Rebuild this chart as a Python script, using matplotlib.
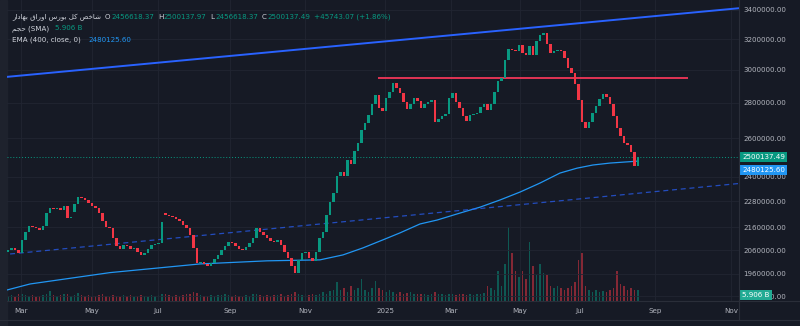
import numpy as np
import matplotlib.pyplot as plt
from matplotlib.ticker import FixedLocator, FixedFormatter, NullLocator
from matplotlib.transforms import blended_transform_factory
from matplotlib.patches import Rectangle
from matplotlib.lines import Line2D

BG = '#161a25'
UP = '#089981'
DOWN = '#f23645'
TXT = '#b2b5be'
LEG = '#d1d4dc'

# closes in thousand points, one candle per ~2 trading days
closes_k = [
    2060, 2069, 2060, 2047, 2104, 2139, 2166, 2161, 2157, 2148,
    2166, 2225, 2249, 2244, 2249, 2240, 2258, 2202, 2202, 2268,
    2301, 2296, 2287, 2273, 2258, 2249, 2225, 2188, 2161, 2157,
    2113, 2078, 2064, 2082, 2078, 2064, 2069, 2052, 2039, 2047,
    2064, 2082, 2086, 2091, 2184, 2216, 2211, 2207, 2198, 2188,
    2170, 2157, 2126, 2069, 2005, 2009, 2001, 1993, 2005, 2022,
    2039, 2060, 2078, 2095, 2091, 2078, 2064, 2060, 2073, 2091,
    2113, 2157, 2139, 2126, 2113, 2100, 2095, 2104, 2082, 2052,
    2026, 1993, 1963, 2018, 2047, 2052, 2026, 2014, 2052, 2113,
    2139, 2216, 2277, 2321, 2404, 2424, 2404, 2486, 2465, 2533,
    2576, 2647, 2686, 2731, 2794, 2847, 2771, 2753, 2830, 2865,
    2919, 2889, 2859, 2806, 2765, 2794, 2830, 2812, 2771, 2794,
    2806, 2818, 2691, 2709, 2726, 2737, 2830, 2859, 2806, 2771,
    2726, 2697, 2731, 2737, 2742, 2777, 2794, 2759, 2794, 2865,
    2932, 2950, 3063, 3134, 3128, 3121, 3160, 3108, 3095, 3154,
    3095, 3187, 3227, 3240, 3167, 3108, 3121, 3128, 3121, 3076,
    3012, 2981, 2913, 2818, 2691, 2658, 2691, 2742, 2782, 2824,
    2853, 2836, 2794, 2726, 2658, 2614, 2575, 2566, 2527, 2454.394,
    2500.13749,
]
# candles that open away from the previous close
gap_opens_k = {0: 2052, 19: 2230, 45: 2225, 180: 2456.61837}

# volume in billions
volume_b = [
    2.5, 3, 2, 3.5, 4, 3, 2.5, 3, 2, 2.5, 3,
    4, 5.5, 3, 2.5, 3, 3.5, 4, 2.5, 3, 4.5,
    3, 2.5, 3, 2, 2.5, 3, 3.5, 2.5, 2, 3,
    2.5, 2, 3, 2.5, 3, 2, 2.5, 3, 2.5, 2,
    3, 2.5, 3, 4, 3.5, 3, 2.5, 3, 2.5, 3,
    3.5, 4, 5, 4.5, 3, 2.5, 2.5, 3, 2.5, 3,
    3, 3.5, 3, 2.5, 3, 2.5, 2, 3, 2.5, 3.5,
    4, 3, 2.5, 3, 2.5, 3, 3, 3.5, 2.5, 3,
    4, 5, 4, 3, 3.5, 3, 4, 3, 4,
    5, 4, 5.5, 6, 10, 6, 7, 5, 8, 6,
    7, 12, 6, 5, 7, 11, 7, 6, 5, 6,
    5, 4, 5, 4, 4.5, 5, 4, 3.5, 4, 3.5,
    3, 4, 5, 4, 3.5, 3, 4, 3.5, 3, 4,
    3.5, 3, 3.5, 3, 4, 3.5, 4.5, 8, 7, 6,
    16, 8, 20, 40, 26, 16, 13, 16, 12, 32,
    19, 14, 20, 15, 14, 8, 7, 8, 7, 6,
    7, 8, 10, 22, 26, 8, 6, 5, 6, 5,
    5.5, 5, 6, 7, 16, 9, 8, 6, 7, 6,
    5.906,
]

# EMA(400) (candle index, thousand points)
ema_idx = [-0.3, 6.3, 29.1, 54.9, 74.0, 89.1, 95.7, 101.4, 107.1, 112.0, 117.7,
           122.6, 129.1, 134.9, 140.6, 146.3, 152.0, 157.7, 162.6, 167.1, 172.0, 180]
ema_k = [1895, 1919, 1965, 2001, 2014, 2018, 2039, 2069, 2104, 2135, 2175,
         2193, 2225, 2253, 2287, 2325, 2369, 2419, 2444, 2460, 2470, 2480.1256]

month_pos = [3.7, 24.0, 42.9, 63.4, 84.9, 107.7, 126.6, 146.3, 163.4, 184.9, 206.6]
month_lbl = ['Mar', 'May', 'Jul', 'Sep', 'Nov', '2025', 'Mar', 'May', 'Jul', 'Sep', 'Nov']
price_ticks = [3400000, 3200000, 3000000, 2800000, 2600000, 2400000,
               2280000, 2160000, 2060000, 1960000, 1870000]

# drawings
upper_trend_x = [-0.3, 208.9]
upper_trend_y = [2957000, 3412800]
lower_trend_x = [0.6, 208.9]
lower_trend_y = [2043000, 2367000]
resist_x = [105.7, 194.3]
resist_y = 2953000

last_close = 2500137.49
last_ema = 2480125.60
last_vol = 5.906

title_fa = '\uFEAD\uFE8D\uFEA9\uFE8E\uFEEC\uFE91 \uFED5\uFE8D\uFEAD\uFEED\uFE8D \uFEB1\uFEAD\uFEEE\uFE91 \uFEDE\uFB90 \uFEBA\uFEA7\uFE8E\uFEB7'
vol_fa = '\uFEE2\uFEA0\uFEA3'

closes = np.array(closes_k, dtype=float) * 1000
opens = np.r_[closes[0], closes[:-1]]
for k, v in gap_opens_k.items():
    opens[k] = v * 1000
idx = np.arange(len(closes))
rising = closes >= opens
colors = np.where(rising, UP, DOWN)

fig = plt.figure(figsize=(8, 3.26), dpi=100, facecolor=BG)
ax = fig.add_axes([7 / 800, 25 / 326, 732 / 800, 301 / 326])
axv = ax.twinx()
ax.set_zorder(axv.get_zorder() + 1)
ax.patch.set_visible(False)
axv.set_facecolor(BG)

# volume
axv.bar(idx, volume_b, width=0.55, color=colors, alpha=0.5, linewidth=0)
axv.set_ylim(0, 162)
axv.set_yticks([])
for s in axv.spines.values():
    s.set_visible(False)

# candles
ax.set_yscale('log')
lo = np.minimum(opens, closes)
h = np.maximum(np.abs(closes - opens), lo * 0.0016)
ax.bar(idx, h, bottom=lo, width=0.72, color=colors, linewidth=0, zorder=3)

ax.plot(ema_idx, np.array(ema_k) * 1000, color='#2196f3', lw=0.9, zorder=2)
ax.plot(upper_trend_x, upper_trend_y, color='#2962ff', lw=1.4, zorder=2)
ax.plot(lower_trend_x, lower_trend_y, color='#2962ff', lw=0.9, ls=(0, (4, 3)), alpha=0.7, zorder=2)
ax.hlines(resist_y, resist_x[0], resist_x[1], color='#f23658', lw=1.3, zorder=2)
ax.axhline(last_close, color=UP, lw=0.7, ls=(0, (1, 2)), zorder=1)

ax.set_xlim(-0.286, 208.86)
ax.set_ylim(1852000, 3471700)
ax.yaxis.tick_right()
ax.yaxis.set_major_locator(FixedLocator(price_ticks))
ax.yaxis.set_major_formatter(FixedFormatter([f'{t:.2f}' for t in price_ticks]))
ax.yaxis.set_minor_locator(NullLocator())
ax.set_xticks(month_pos, month_lbl)
ax.tick_params(axis='y', colors=TXT, labelsize=5.1, length=0, pad=3)
ax.tick_params(axis='x', colors=TXT, labelsize=5.1, length=0, pad=5)
ax.grid(True, color='#212532', lw=0.6)
ax.set_axisbelow(True)
for s in ax.spines.values():
    s.set_visible(False)

# price / value tags on the scale
ax.annotate(f'{last_close:.2f}', xy=(1, last_close), xycoords=('axes fraction', 'data'),
            xytext=(2.2, 0), textcoords='offset points', va='center', ha='left',
            fontsize=5.1, color='white', zorder=10,
            bbox=dict(boxstyle='square,pad=0.3', fc=UP, ec='none'))
ax.annotate(f'{last_ema:.2f}', xy=(1, last_ema), xycoords=('axes fraction', 'data'),
            xytext=(2.2, -6.5), textcoords='offset points', va='center', ha='left',
            fontsize=5.1, color='white', zorder=10,
            bbox=dict(boxstyle='square,pad=0.3', fc='#2196f3', ec='none'))
ax.annotate(f'{last_vol:.3f} B', xy=(1, last_vol),
            xycoords=blended_transform_factory(ax.transAxes, axv.transData),
            xytext=(2.2, -3.5), textcoords='offset points', va='center', ha='left',
            fontsize=5.1, color='white', zorder=10,
            bbox=dict(boxstyle='square,pad=0.3', fc='#22ab94', ec='none'))

# frame pieces
fig.patches.append(Rectangle((0, 0), 7 / 800, 1, transform=fig.transFigure, color='#1e222d', zorder=0))
fig.lines.append(Line2D([739 / 800] * 2, [1 - 320 / 326, 1], transform=fig.transFigure, color='#2a2e39', lw=0.8))
fig.lines.append(Line2D([7 / 800, 1], [25 / 326] * 2, transform=fig.transFigure, color='#2a2e39', lw=0.8))
fig.lines.append(Line2D([0, 1], [6 / 326] * 2, transform=fig.transFigure, color='#2a2e39', lw=0.8))

# legend rows
r = fig.canvas.get_renderer()


def write_row(x, y, parts):
    for s, c, gap in parts:
        t = fig.text(x / 800, 1 - y / 326, s, color=c, fontsize=5.1, va='center', ha='left')
        x = t.get_window_extent(r).x1 + gap


write_row(12, 17, [(title_fa, LEG, 4), ('O', LEG, 0.5), ('2456618.37', UP, 4),
                   ('H', LEG, 0.5), ('2500137.97', UP, 4), ('L', LEG, 0.5),
                   ('2456618.37', UP, 4), ('C', LEG, 0.5), ('2500137.49', UP, 4),
                   ('+45743.07 (+1.86%)', UP, 0)])
write_row(12, 28.5, [(vol_fa + ' (SMA)', LEG, 6), ('5.906 B', UP, 0)])
write_row(12, 40, [('EMA (400, close, 0)', LEG, 8), ('2480125.60', '#2196f3', 0)])

fig.savefig('out.png', dpi=100, facecolor=BG)
